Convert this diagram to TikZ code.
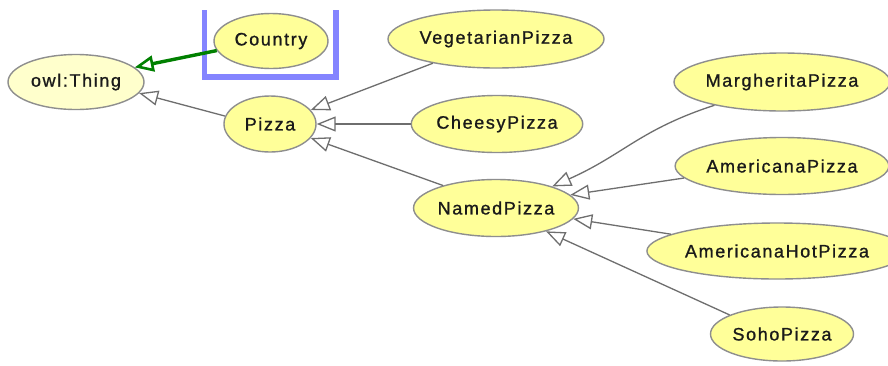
\documentclass[tikz,border=0pt]{standalone}
\usepackage{fontspec}
\newfontfamily\lblfont{Liberation Sans}[LetterSpace=9, FakeBold=1.1]
\usetikzlibrary{shapes.geometric,arrows.meta}
\definecolor{clsfill}{HTML}{FFFF99}
\definecolor{rootfill}{HTML}{FFFFCC}
\definecolor{clsline}{HTML}{8E8E8E}
\definecolor{isaline}{HTML}{6E6E6E}
\definecolor{selgreen}{HTML}{008000}
\definecolor{selblue}{HTML}{8484FF}
\definecolor{lbltext}{HTML}{1A1A1A}
\tikzset{
  cls/.style={ellipse, draw=clsline, line width=1.4pt, fill=clsfill, inner sep=0pt,
    text=lbltext, font=\lblfont\fontsize{18}{20}\selectfont},
  root/.style={cls, fill=rootfill},
  isa/.style={draw=isaline, line width=1.3pt,
    -{Triangle[open, length=19pt, width=15pt, line width=1.3pt]}},
  selisa/.style={draw=selgreen, line width=3.4pt,
    -{Triangle[open, length=19pt, width=16pt, line width=2.6pt]}},
  selframe/.style={draw=selblue, line width=5.5pt}
}
\begin{document}
\begin{tikzpicture}[x=1pt, y=-1pt]
  \useasboundingbox[fill=white] (0,0) rectangle (888,365);

  % classes
  \node[root, minimum width=136, minimum height=55] (thing)  at (76,82)   {owl:Thing};
  \node[cls,  minimum width=114, minimum height=55] (country) at (271,41) {Country};
  \node[cls,  minimum width=92,  minimum height=56] (pizza)  at (270,124) {Pizza};
  \node[cls,  minimum width=196, minimum height=58] (veg)    at (496,39)  {VegetarianPizza};
  \node[cls,  minimum width=160, minimum height=57] (cheesy) at (497,124) {CheesyPizza};
  \node[cls,  minimum width=163, minimum height=57] (named)  at (496,208) {NamedPizza};
  \node[cls,  minimum width=196, minimum height=58] (marg)   at (782,82)  {MargheritaPizza};
  \node[cls,  minimum width=197, minimum height=57] (amer)   at (782,166) {AmericanaPizza};
  \node[cls,  minimum width=220, minimum height=56] (amhot)  at (777,251) {AmericanaHotPizza};
  \node[cls,  minimum width=143, minimum height=54] (soho)   at (782,334) {SohoPizza};

  % selection frame around Country
  \path[selframe] (204.5,10) -- (204.5,77) -- (336,77) -- (336,10);

  % subclass links
  \draw[selisa] (country.190) -- (thing.14);
  \draw[isa] (pizza.170) -- (thing.-10);
  \draw[isa] (veg.201) -- (pizza.19);
  \draw[isa] (cheesy.180) -- (pizza.0);
  \draw[isa] (named.157) -- (pizza.-19);
  \draw[isa] (marg.199) to[out=198, in=24, looseness=1.1] (named.21);
  \draw[isa] (amer.187) -- (named.10);
  \draw[isa] (amhot.171) -- (named.-8);
  \draw[isa] (soho.160) -- (named.-25);
\end{tikzpicture}
\end{document}
